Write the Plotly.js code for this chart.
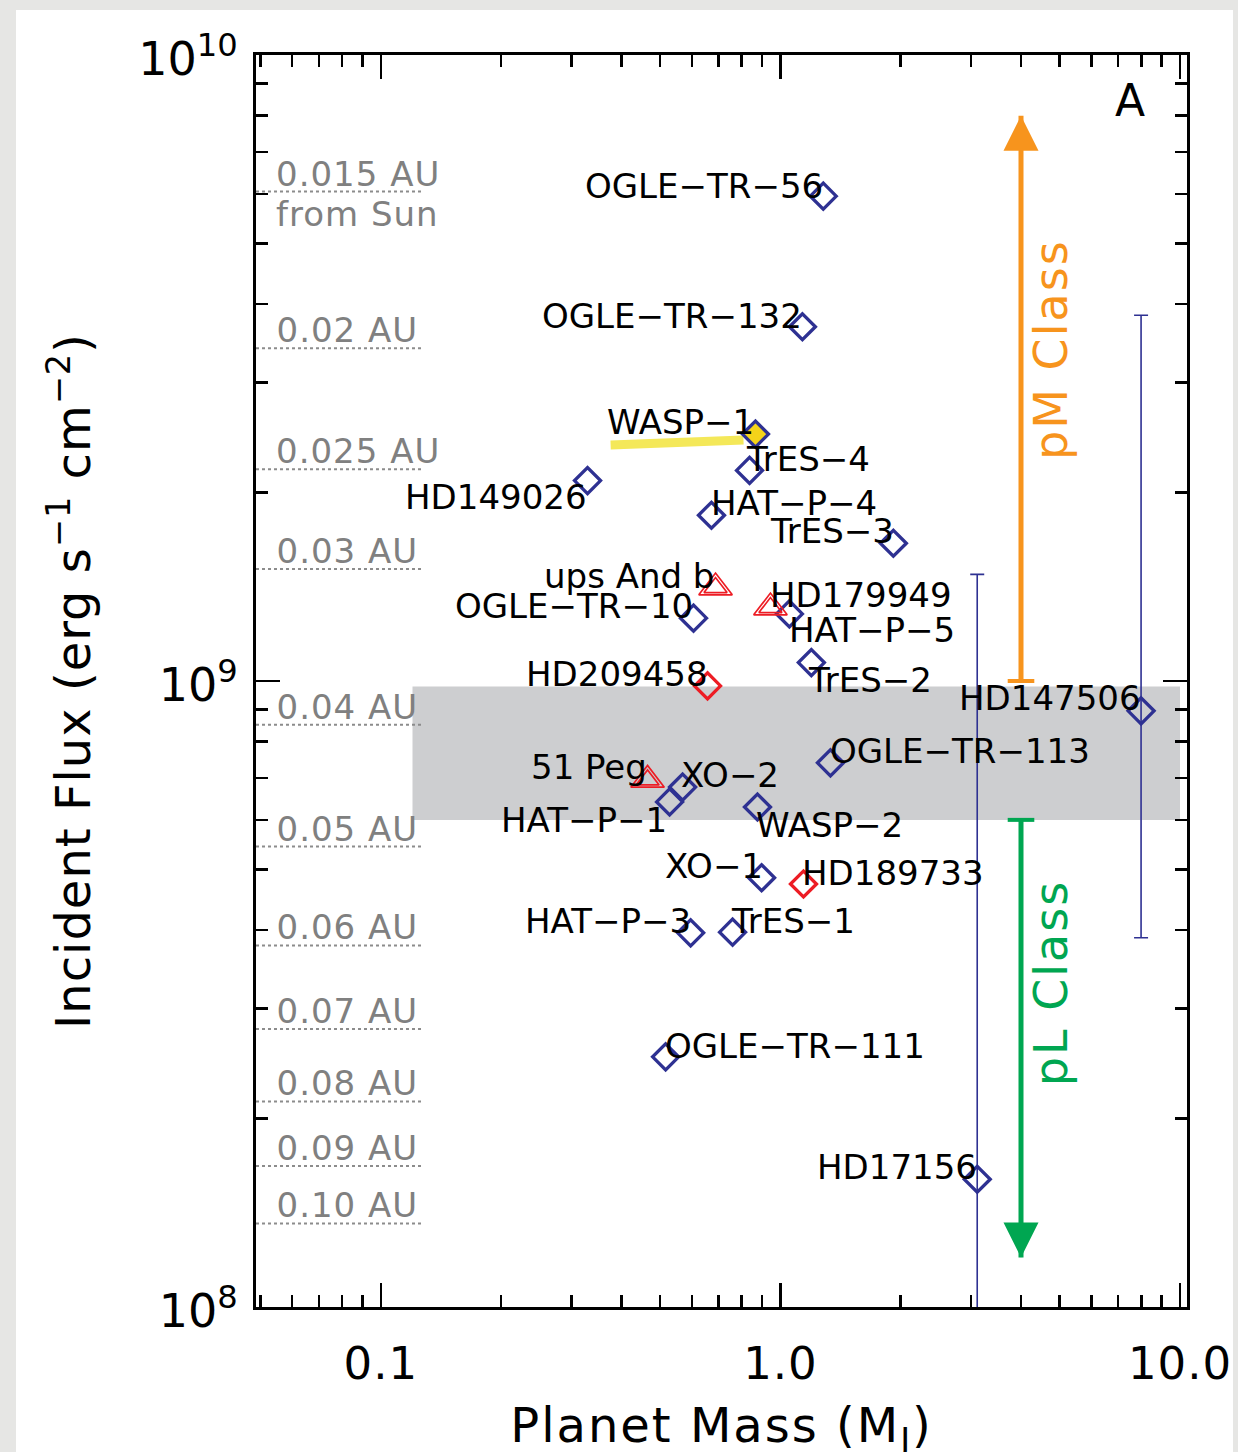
<!DOCTYPE html>
<html><head><meta charset="utf-8">
<script src="https://cdn.plot.ly/plotly-3.0.1.min.js"></script>
<style>
html,body{margin:0;padding:0;background:#e6e6e4;width:1238px;height:1452px;overflow:hidden}
#chart{position:absolute;left:16px;top:10px;width:1217px;height:1450px;background:#fff}
#chart text.xtitle{letter-spacing:2px}
#chart text.ytitle{letter-spacing:1px}
#chart .xtick text{letter-spacing:1px}
#chart text.annotation-text[data-unformatted$="AU"],
#chart text.annotation-text[data-unformatted="from Sun"]{letter-spacing:1px}
#chart text.annotation-text[data-unformatted$="Class"]{letter-spacing:2px}
</style></head><body><div id="chart"></div>
<script>
// ---------- data ----------
const planetNames = ['OGLE−TR−56','OGLE−TR−132','WASP−1','TrES−4','HD149026','HAT−P−4','TrES−3',
  'ups And b','HD179949','HAT−P−5','OGLE−TR−10','TrES−2','HD209458','HD147506','OGLE−TR−113',
  '51 Peg','XO−2','HAT−P−1','WASP−2','XO−1','HD189733','HAT−P−3','TrES−1','OGLE−TR−111','HD17156'];
const planetMass = [1.28,1.135,0.866,0.837,0.329,0.672,1.917,
  0.688,0.944,1.053,0.606,1.195,0.657,7.99,1.334,
  0.465,0.569,0.528,0.876,0.897,1.142,0.596,0.759,0.516,3.108];
const planetFlux = [5.95e9,3.68e9,2.48e9,2.17e9,2.09e9,1.84e9,1.66e9,
  1.41e9,1.31e9,1.28e9,1.26e9,1.07e9,9.82e8,8.96e8,7.40e8,
  6.95e8,6.77e8,6.41e8,6.29e8,4.85e8,4.74e8,3.96e8,3.97e8,2.51e8,1.60e8];
const planetKind = ['transit','transit','highlight','transit','transit','transit','transit',
  'rv','rv','transit','transit','transit','red','transit','transit',
  'rv','transit','transit','transit','transit','red','transit','transit','transit','transit'];
const errorPlanets = ['HD147506','HD17156'];
const errorFluxUpper = [3.84e9, 1.48e9];
const errorFluxLower = [3.89e8, 8.0e7];

const auLabels = ['0.015 AU','0.02 AU','0.025 AU','0.03 AU','0.04 AU','0.05 AU','0.06 AU','0.07 AU','0.08 AU','0.09 AU','0.10 AU'];
const auFlux = [6.05e9,3.40e9,2.18e9,1.51e9,8.51e8,5.44e8,3.78e8,2.78e8,2.13e8,1.68e8,1.36e8];

const xTickVals = [0.1,1,10];
const xTickText = ['0.1','1.0','10.0'];
const xMinorVals = [0.05,0.06,0.07,0.08,0.09,0.2,0.3,0.4,0.5,0.6,0.7,0.8,0.9,2,3,4,5,6,7,8,9];
const yTickVals = [1e8,1e9,1e10];
const yTickText = ['10<sup>8</sup>','10<sup>9</sup>','10<sup>10</sup>'];
const yMinorVals = [2e8,3e8,4e8,5e8,6e8,7e8,8e8,9e8,2e9,3e9,4e9,5e9,6e9,7e9,8e9,9e9];

const classMass = 4;
const pMFlux = [1.0e9, 8.0e9];
const pLFlux = [6.0e8, 1.2e8];
const bandMass = [0.12, 10];
const bandFlux = [6.0e8, 9.8e8];

// ---------- label placement (style) ----------
// side: 'l' = text to the left of point, 'r' = text to the right
const labelSide = ['l','l','l','r','l','r','l','l','r','r','l','r','l','l','r','l','r','l','r','l','r','l','r','r','l'];
const labelDx   = [2,2,1,-6,1,-2,3,0,-2,-2,1,-5,2,2,-2,1,-4,-1,-3,3,-3,2,-4,-3,2];
const labelDy   = [10,11,12,11,-16,12,12,12,13,-16,12,-17,12,13,12,13,12,-18,-18,12,11,12,11,11,12];

const NAVY = '#2e3192', RED = '#ed1c24', ORANGE = '#f7941d', GREEN = '#00a651', GOLD = '#f5d31a';
const FONT = 'DejaVu Sans';

function pick(kind){
  const idx = planetNames.map((n,i)=>i).filter(i=>planetKind[i]===kind && errorPlanets.indexOf(planetNames[i])<0);
  return {x: idx.map(i=>planetMass[i]), y: idx.map(i=>planetFlux[i]), t: idx.map(i=>planetNames[i])};
}
const tr = pick('transit'), rd = pick('red'), hl = pick('highlight'), rv = pick('rv');
const eIdx = errorPlanets.map(n=>planetNames.indexOf(n));
const eX = eIdx.map(i=>planetMass[i]), eY = eIdx.map(i=>planetFlux[i]);

const DIA = 20, DIAW = 3.3;
const traces = [
  {type:'scatter', mode:'markers', x:eX, y:eY, text:errorPlanets, hoverinfo:'text',
   marker:{symbol:'diamond-open', size:DIA, color:NAVY, line:{width:DIAW,color:NAVY}},
   error_y:{type:'data', symmetric:false,
     array: eIdx.map((i,k)=>errorFluxUpper[k]-planetFlux[i]),
     arrayminus: eIdx.map((i,k)=>planetFlux[i]-errorFluxLower[k]),
     color:NAVY, thickness:1.6, width:7}},
  {type:'scatter', mode:'markers', x:tr.x, y:tr.y, text:tr.t, hoverinfo:'text',
   marker:{symbol:'diamond-open', size:DIA, color:NAVY, line:{width:DIAW,color:NAVY}}},
  {type:'scatter', mode:'markers', x:rd.x, y:rd.y, text:rd.t, hoverinfo:'text',
   marker:{symbol:'diamond-open', size:DIA, color:RED, line:{width:DIAW,color:RED}}},
  {type:'scatter', mode:'markers', x:hl.x, y:hl.y, text:hl.t, hoverinfo:'text',
   marker:{symbol:'diamond', size:DIA, color:GOLD, line:{width:DIAW,color:NAVY}}},
  {type:'scatter', mode:'markers', x:rv.x, y:rv.y, text:rv.t, hoverinfo:'text',
   marker:{symbol:'triangle-up-open', size:29, color:RED, line:{width:1.7,color:RED}}},
  {type:'scatter', mode:'markers', x:rv.x, y:rv.y, hoverinfo:'skip',
   marker:{symbol:'triangle-up-open', size:20, color:RED, line:{width:1.7,color:RED}}},
  // pM class arrow
  {type:'scatter', mode:'lines', x:[classMass,classMass], y:pMFlux, hoverinfo:'skip',
   line:{color:ORANGE, width:5}},
  {type:'scatter', mode:'markers', x:[classMass,classMass], y:pMFlux, hoverinfo:'skip',
   marker:{symbol:['line-ew','arrow-up'], size:[19,35], color:ORANGE, opacity:1, line:{color:ORANGE, width:[4,0]}}},
  // pL class arrow
  {type:'scatter', mode:'lines', x:[classMass,classMass], y:pLFlux, hoverinfo:'skip',
   line:{color:GREEN, width:5}},
  {type:'scatter', mode:'markers', x:[classMass,classMass], y:pLFlux, hoverinfo:'skip',
   marker:{symbol:['line-ew','arrow-down'], size:[19,35], color:GREEN, opacity:1, line:{color:GREEN, width:[4,0]}}}
];

const shapes = [
  {type:'rect', xref:'x', yref:'y', x0:bandMass[0], x1:bandMass[1], y0:bandFlux[0], y1:bandFlux[1],
   fillcolor:'#cdced0', line:{width:0}, layer:'below'}
];
auFlux.forEach(f=>shapes.push({type:'line', xref:'paper', yref:'y', x0:0, x1:0.178, y0:f, y1:f,
   line:{color:'#8c8c8c', width:2, dash:'dot'}}));
// highlighter stroke under WASP-1 label
const wi = planetKind.indexOf('highlight');
shapes.push({type:'line', xref:'x', yref:'y',
  x0: planetMass[wi]*Math.pow(10,-145/400), y0: planetFlux[wi]*Math.pow(10,-11/626),
  x1: planetMass[wi]*Math.pow(10,-12/400), y1: planetFlux[wi]*Math.pow(10,-6/626),
  line:{color:'#f2e330', width:9}, opacity:0.8, layer:'below'});

const annotations = [];
planetNames.forEach((n,i)=>{
  annotations.push({xref:'x', yref:'y', x:Math.log10(planetMass[i]), y:Math.log10(planetFlux[i]),
    text:n, showarrow:false, xanchor: labelSide[i]==='l' ? 'right':'left', yanchor:'middle',
    xshift:labelDx[i], yshift:labelDy[i], font:{family:FONT, size:34, color:'#000'}});
});
auLabels.forEach((t,i)=>{
  annotations.push({xref:'paper', yref:'y', x:0.024, y:Math.log10(auFlux[i]), text:t, showarrow:false,
    xanchor:'left', yanchor:'middle', yshift:18, font:{family:FONT, size:34, color:'#808080'}});
});
annotations.push({xref:'paper', yref:'y', x:0.024, y:Math.log10(auFlux[0]), text:'from Sun', showarrow:false,
  xanchor:'left', yanchor:'middle', yshift:-22, font:{family:FONT, size:34, color:'#808080'}});
annotations.push({xref:'x', yref:'y', x:Math.log10(classMass), y:Math.log10(3.38e9), text:'pM Class',
  textangle:-90, showarrow:false, xshift:30, font:{family:FONT, size:46, color:ORANGE}});
annotations.push({xref:'x', yref:'y', x:Math.log10(classMass), y:Math.log10(3.29e8), text:'pL Class',
  textangle:-90, showarrow:false, xshift:30, font:{family:FONT, size:46, color:GREEN}});
annotations.push({xref:'paper', yref:'paper', x:0.939, y:0.964, xanchor:'center', yanchor:'middle',
  text:'A', showarrow:false, font:{family:FONT, size:44, color:'#000'}});

const layout = {
  width:1217, height:1450,
  margin:{l:240, r:46, t:45, b:153},
  paper_bgcolor:'#ffffff', plot_bgcolor:'#ffffff',
  showlegend:false,
  font:{family:FONT, color:'#000'},
  xaxis:{type:'log', range:[-1.3125, 1.0175], showgrid:false, zeroline:false,
    showline:true, linecolor:'#000', linewidth:3, mirror:'ticks',
    ticks:'inside', ticklen:24, tickwidth:2.5, tickcolor:'#000',
    tickmode:'array', tickvals:xTickVals, ticktext:xTickText,
    tickfont:{family:FONT, size:45, color:'#000'}, ticklabelstandoff:15,
    minor:{tickmode:'array', tickvals:xMinorVals, ticks:'inside', ticklen:12, tickwidth:2.5, tickcolor:'#000', showgrid:false},
    title:{text:'Planet Mass (M<sub>J</sub>)', font:{family:FONT, size:48, color:'#000'}, standoff:39},
    automargin:false},
  yaxis:{type:'log', range:[8,10], showgrid:false, zeroline:false,
    showline:true, linecolor:'#000', linewidth:3, mirror:'ticks',
    ticks:'inside', ticklen:24, tickwidth:2.5, tickcolor:'#000',
    tickmode:'array', tickvals:yTickVals, ticktext:yTickText,
    tickfont:{family:FONT, size:46, color:'#000'}, ticklabelstandoff:6, ticklabelshift:4,
    minor:{tickmode:'array', tickvals:yMinorVals, ticks:'inside', ticklen:12, tickwidth:2.5, tickcolor:'#000', showgrid:false},
    title:{text:'Incident Flux (erg s<sup>−1</sup> cm<sup>−2</sup>)', font:{family:FONT, size:48, color:'#000'}, standoff:33},
    automargin:false},
  shapes:shapes,
  annotations:annotations
};
Plotly.newPlot('chart', traces, layout, {displayModeBar:false, staticPlot:true});
</script></body></html>
